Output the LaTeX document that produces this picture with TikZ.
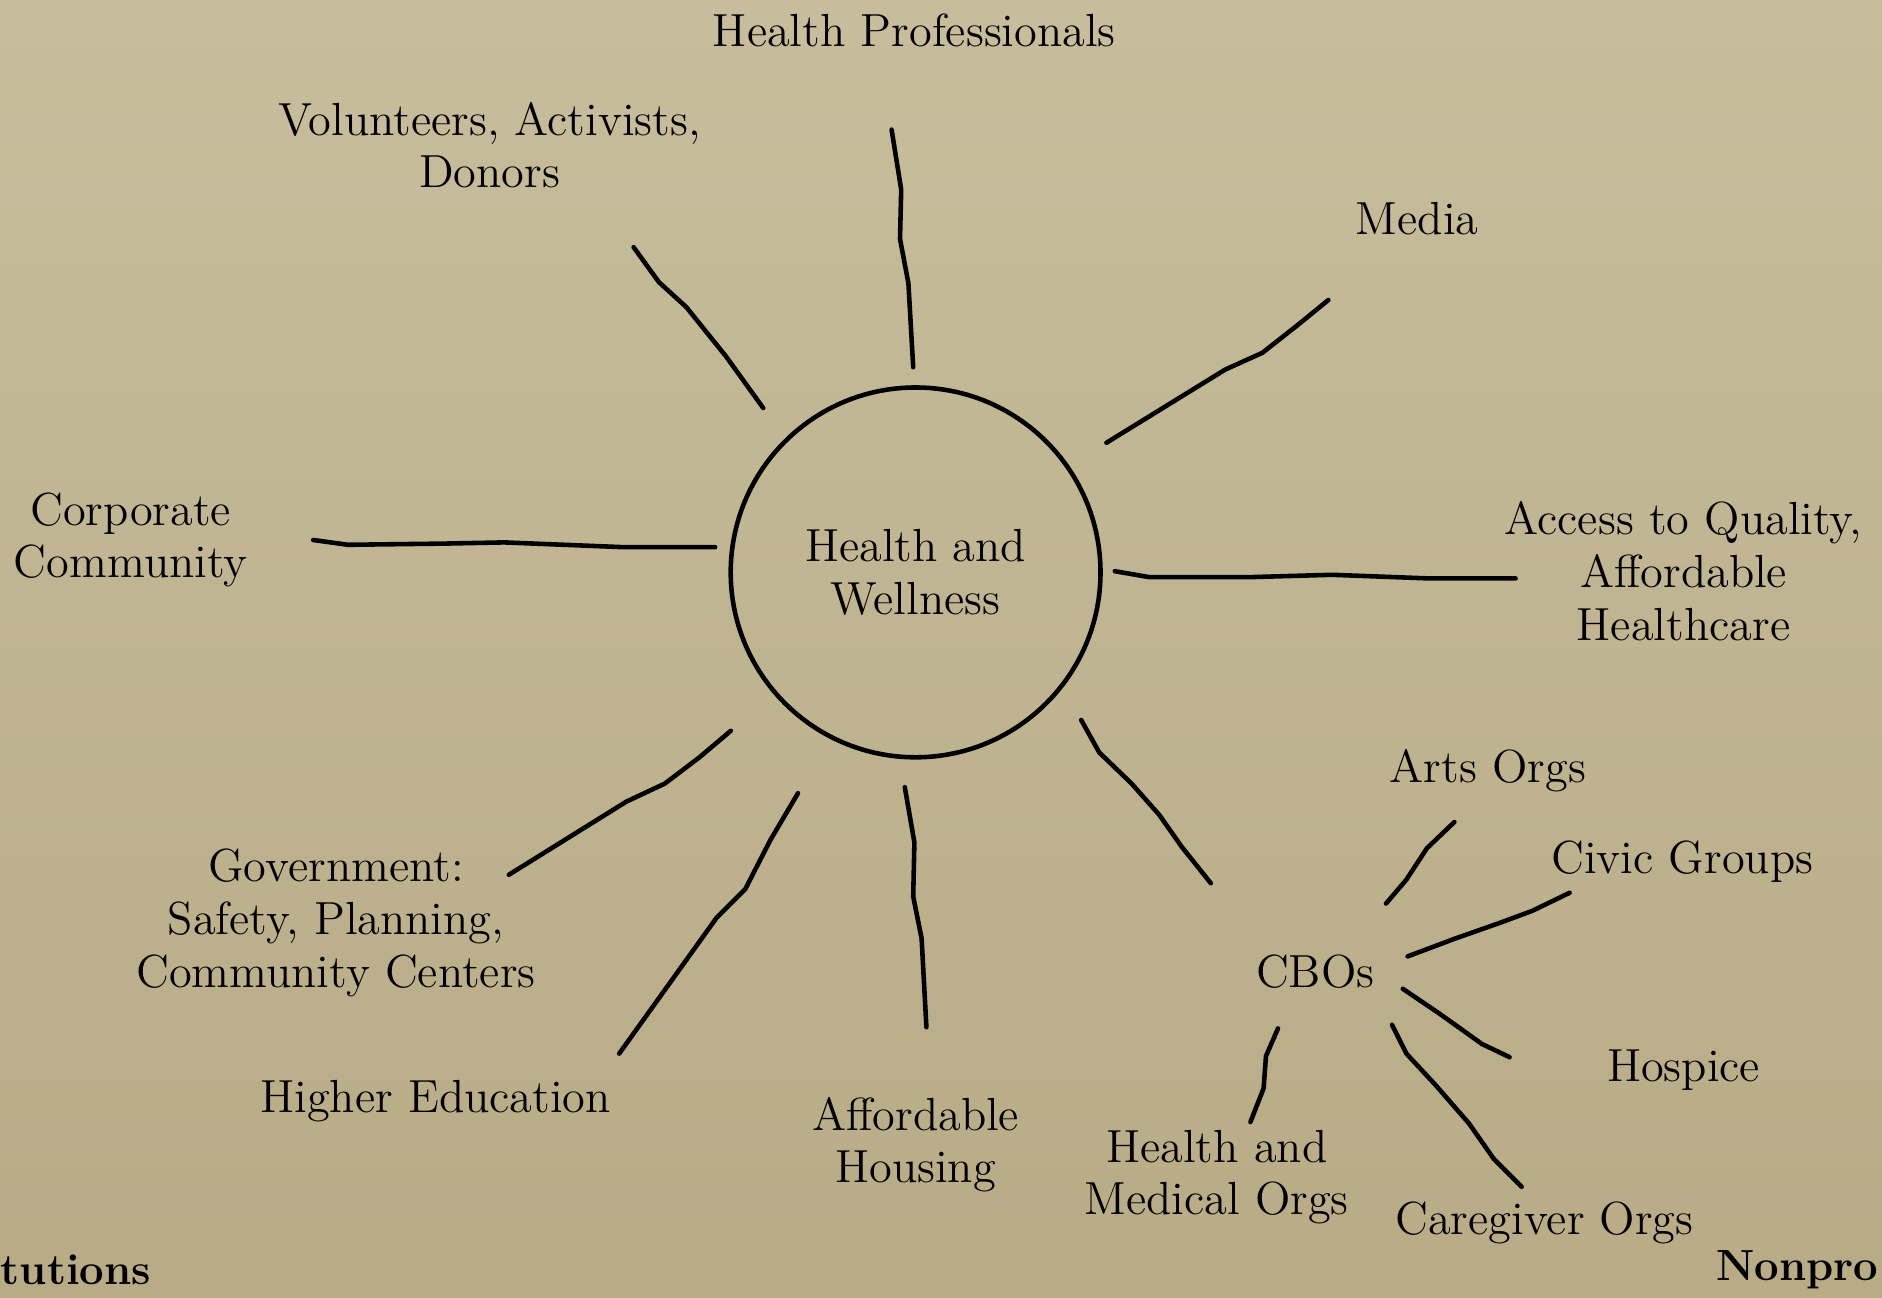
\documentclass[tikz,border=0pt]{standalone}
\begin{document}
\begin{tikzpicture}[x=0.012cm, y=-0.012cm,
  lbl/.style={align=center, font=\fontsize{13.2}{15}\selectfont, inner sep=0pt},
  edge/.style={font=\bfseries\fontsize{12.4}{15}\selectfont, inner sep=0pt},
  spoke/.style={line width=1.3pt, line join=round, line cap=round}]
\definecolor{paper}{RGB}{199,189,156}
\definecolor{paperdark}{RGB}{184,171,134}
\shade[top color=paper, bottom color=paperdark] (0,0) rectangle (1568.33,1081.67);
\useasboundingbox (0,0) rectangle (1568.33,1081.67);

% hub
\node[lbl, draw, circle, line width=1.3pt, minimum size=3.696cm] (hw) at (763,477) {Health and\\Wellness};

% labels
\node[lbl] (hp) at (762,25) {Health Professionals};
\node[lbl] (vol) at (408,121) {Volunteers, Activists,\\Donors};
\node[lbl] (media) at (1181,182) {Media};
\node[lbl] (corp) at (109,450) {Corporate\\Community};
\node[lbl] (access) at (1403,476) {Access to Quality,\\Affordable\\Healthcare};
\node[lbl] (gov) at (280,769) {Government:\\Safety, Planning,\\Community Centers};
\node[lbl] (highed) at (363,918) {Higher Education};
\node[lbl] (house) at (763,954) {Affordable\\Housing};
\node[lbl] (cbo) at (1096,810) {CBOs};
\node[lbl] (arts) at (1240,642) {Arts Orgs};
\node[lbl] (civic) at (1402,718) {Civic Groups};
\node[lbl] (hosp) at (1403,892) {Hospice};
\node[lbl] (care) at (1287,1019) {Caregiver Orgs};
\node[lbl] (hmo) at (1014,981) {Health and\\Medical Orgs};
\node[edge, anchor=west] (inst) at (0,1058) {tutions};
\node[edge, anchor=east] (nonp) at (1566,1058) {Nonpro};

% spoke ends
\coordinate (hp-a) at (761,306);   \coordinate (hp-b) at (743,108);
\coordinate (vol-a) at (636,340);  \coordinate (vol-b) at (528,206);
\coordinate (med-a) at (922,369);  \coordinate (med-b) at (1107,250);
\coordinate (cor-a) at (596,456);  \coordinate (cor-b) at (261,450);
\coordinate (acc-a) at (929,476);  \coordinate (acc-b) at (1263,482);
\coordinate (gov-a) at (609,609);  \coordinate (gov-b) at (424,729);
\coordinate (hed-a) at (665,661);  \coordinate (hed-b) at (516,878);
\coordinate (hou-a) at (754,656);  \coordinate (hou-b) at (772,856);
\coordinate (cbo-a) at (901,600);  \coordinate (cbo-b) at (1009,736);
\coordinate (art-a) at (1155,753); \coordinate (art-b) at (1212,685);
\coordinate (civ-a) at (1173,797); \coordinate (civ-b) at (1308,744);
\coordinate (hos-a) at (1169,824); \coordinate (hos-b) at (1258,881);
\coordinate (car-a) at (1160,854); \coordinate (car-b) at (1268,989);
\coordinate (hmo-a) at (1065,857); \coordinate (hmo-b) at (1042,935);

% spokes round the hub
\draw[spoke] (hp-a) -- (757,236) -- (750,199) -- (751,158) -- (hp-b);
\draw[spoke] (vol-a) -- (605,297) -- (572,256) -- (549,235) -- (vol-b);
\draw[spoke] (med-a) -- (1021,308) -- (1052,294) -- (1080,272) -- (med-b);
\draw[spoke] (cor-a) -- (520,456) -- (420,452) -- (370,453) -- (290,454) -- (cor-b);
\draw[spoke] (acc-a) -- (958,481) -- (1040,481) -- (1110,479) -- (1190,482) -- (acc-b);
\draw[spoke] (gov-a) -- (583,631) -- (554,653) -- (522,668) -- (gov-b);
\draw[spoke] (hed-a) -- (642,700) -- (621,741) -- (597,765) -- (hed-b);
\draw[spoke] (hou-a) -- (762,702) -- (761,747) -- (768,782) -- (hou-b);
\draw[spoke] (cbo-a) -- (916,627) -- (943,653) -- (966,679) -- (985,706) -- (cbo-b);

% spokes round the CBOs
\draw[spoke] (art-a) -- (1172,733) -- (1189,707) -- (art-b);
\draw[spoke] (civ-a) -- (1213,782) -- (1250,769) -- (1277,759) -- (civ-b);
\draw[spoke] (hos-a) -- (1200,845) -- (1235,870) -- (hos-b);
\draw[spoke] (car-a) -- (1172,878) -- (1197,905) -- (1224,936) -- (1245,966) -- (car-b);
\draw[spoke] (hmo-a) -- (1055,880) -- (1053,907) -- (hmo-b);
\end{tikzpicture}
\end{document}
